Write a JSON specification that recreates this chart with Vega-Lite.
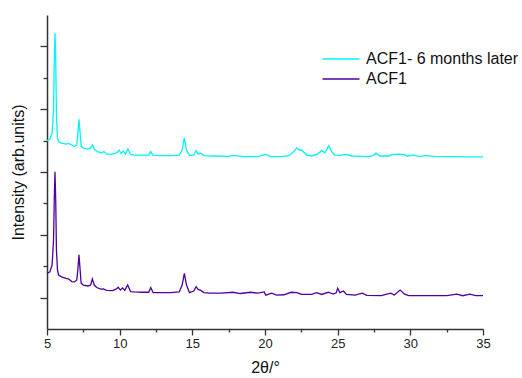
{
  "$schema": "https://vega.github.io/schema/vega-lite/v6.json",
  "autosize": "none",
  "padding": {"left": 47, "top": 15, "right": 39, "bottom": 49},
  "width": 436,
  "height": 314,
  "background": "white",
  "config": {
    "view": {"stroke": null},
    "font": "Liberation Sans",
    "axis": {"grid": false, "domainColor": "#333", "tickColor": "#333", "domainWidth": 1.5, "tickWidth": 1.3, "labelColor": "#222", "titleColor": "#111", "titleFontWeight": "normal"}
  },
  "datasets": {
    "xrd": [
      {"t":5.0,"i":5.99,"s":"ACF1- 6 months later"},{"t":5.2,"i":6.05,"s":"ACF1- 6 months later"},{"t":5.35,"i":6.24,"s":"ACF1- 6 months later"},{"t":5.45,"i":6.97,"s":"ACF1- 6 months later"},{"t":5.5,"i":8.57,"s":"ACF1- 6 months later"},{"t":5.55,"i":9.42,"s":"ACF1- 6 months later"},{"t":5.6,"i":8.57,"s":"ACF1- 6 months later"},{"t":5.65,"i":6.82,"s":"ACF1- 6 months later"},{"t":5.72,"i":6.08,"s":"ACF1- 6 months later"},{"t":5.8,"i":5.96,"s":"ACF1- 6 months later"},{"t":6.0,"i":5.92,"s":"ACF1- 6 months later"},{"t":6.3,"i":5.89,"s":"ACF1- 6 months later"},{"t":6.5,"i":5.91,"s":"ACF1- 6 months later"},{"t":6.7,"i":5.86,"s":"ACF1- 6 months later"},{"t":6.9,"i":5.81,"s":"ACF1- 6 months later"},{"t":7.05,"i":5.86,"s":"ACF1- 6 months later"},{"t":7.13,"i":6.27,"s":"ACF1- 6 months later"},{"t":7.2,"i":6.68,"s":"ACF1- 6 months later"},{"t":7.27,"i":6.27,"s":"ACF1- 6 months later"},{"t":7.35,"i":5.83,"s":"ACF1- 6 months later"},{"t":7.5,"i":5.76,"s":"ACF1- 6 months later"},{"t":7.8,"i":5.73,"s":"ACF1- 6 months later"},{"t":8.0,"i":5.76,"s":"ACF1- 6 months later"},{"t":8.12,"i":5.86,"s":"ACF1- 6 months later"},{"t":8.25,"i":5.73,"s":"ACF1- 6 months later"},{"t":8.5,"i":5.64,"s":"ACF1- 6 months later"},{"t":8.75,"i":5.61,"s":"ACF1- 6 months later"},{"t":8.92,"i":5.65,"s":"ACF1- 6 months later"},{"t":9.1,"i":5.57,"s":"ACF1- 6 months later"},{"t":9.5,"i":5.57,"s":"ACF1- 6 months later"},{"t":9.8,"i":5.61,"s":"ACF1- 6 months later"},{"t":9.96,"i":5.7,"s":"ACF1- 6 months later"},{"t":10.1,"i":5.59,"s":"ACF1- 6 months later"},{"t":10.25,"i":5.67,"s":"ACF1- 6 months later"},{"t":10.4,"i":5.57,"s":"ACF1- 6 months later"},{"t":10.57,"i":5.73,"s":"ACF1- 6 months later"},{"t":10.75,"i":5.56,"s":"ACF1- 6 months later"},{"t":11.0,"i":5.54,"s":"ACF1- 6 months later"},{"t":11.5,"i":5.54,"s":"ACF1- 6 months later"},{"t":12.0,"i":5.54,"s":"ACF1- 6 months later"},{"t":12.14,"i":5.65,"s":"ACF1- 6 months later"},{"t":12.3,"i":5.53,"s":"ACF1- 6 months later"},{"t":12.8,"i":5.52,"s":"ACF1- 6 months later"},{"t":13.5,"i":5.52,"s":"ACF1- 6 months later"},{"t":14.1,"i":5.54,"s":"ACF1- 6 months later"},{"t":14.3,"i":5.7,"s":"ACF1- 6 months later"},{"t":14.45,"i":6.09,"s":"ACF1- 6 months later"},{"t":14.6,"i":5.7,"s":"ACF1- 6 months later"},{"t":14.8,"i":5.53,"s":"ACF1- 6 months later"},{"t":15.1,"i":5.54,"s":"ACF1- 6 months later"},{"t":15.26,"i":5.68,"s":"ACF1- 6 months later"},{"t":15.4,"i":5.57,"s":"ACF1- 6 months later"},{"t":15.58,"i":5.6,"s":"ACF1- 6 months later"},{"t":15.8,"i":5.52,"s":"ACF1- 6 months later"},{"t":16.5,"i":5.51,"s":"ACF1- 6 months later"},{"t":17.5,"i":5.5,"s":"ACF1- 6 months later"},{"t":17.9,"i":5.53,"s":"ACF1- 6 months later"},{"t":18.5,"i":5.49,"s":"ACF1- 6 months later"},{"t":19.0,"i":5.5,"s":"ACF1- 6 months later"},{"t":19.5,"i":5.49,"s":"ACF1- 6 months later"},{"t":20.05,"i":5.56,"s":"ACF1- 6 months later"},{"t":20.4,"i":5.49,"s":"ACF1- 6 months later"},{"t":21.0,"i":5.49,"s":"ACF1- 6 months later"},{"t":21.6,"i":5.51,"s":"ACF1- 6 months later"},{"t":21.9,"i":5.61,"s":"ACF1- 6 months later"},{"t":22.18,"i":5.77,"s":"ACF1- 6 months later"},{"t":22.35,"i":5.7,"s":"ACF1- 6 months later"},{"t":22.52,"i":5.7,"s":"ACF1- 6 months later"},{"t":22.87,"i":5.54,"s":"ACF1- 6 months later"},{"t":23.2,"i":5.51,"s":"ACF1- 6 months later"},{"t":23.6,"i":5.57,"s":"ACF1- 6 months later"},{"t":23.9,"i":5.68,"s":"ACF1- 6 months later"},{"t":24.13,"i":5.61,"s":"ACF1- 6 months later"},{"t":24.38,"i":5.84,"s":"ACF1- 6 months later"},{"t":24.6,"i":5.64,"s":"ACF1- 6 months later"},{"t":24.8,"i":5.54,"s":"ACF1- 6 months later"},{"t":25.2,"i":5.53,"s":"ACF1- 6 months later"},{"t":25.56,"i":5.56,"s":"ACF1- 6 months later"},{"t":26.0,"i":5.51,"s":"ACF1- 6 months later"},{"t":27.0,"i":5.49,"s":"ACF1- 6 months later"},{"t":27.4,"i":5.51,"s":"ACF1- 6 months later"},{"t":27.64,"i":5.6,"s":"ACF1- 6 months later"},{"t":27.9,"i":5.51,"s":"ACF1- 6 months later"},{"t":28.5,"i":5.51,"s":"ACF1- 6 months later"},{"t":28.8,"i":5.56,"s":"ACF1- 6 months later"},{"t":29.2,"i":5.57,"s":"ACF1- 6 months later"},{"t":29.5,"i":5.56,"s":"ACF1- 6 months later"},{"t":29.8,"i":5.51,"s":"ACF1- 6 months later"},{"t":30.2,"i":5.54,"s":"ACF1- 6 months later"},{"t":30.6,"i":5.5,"s":"ACF1- 6 months later"},{"t":31.1,"i":5.52,"s":"ACF1- 6 months later"},{"t":31.6,"i":5.5,"s":"ACF1- 6 months later"},{"t":32.5,"i":5.49,"s":"ACF1- 6 months later"},{"t":33.3,"i":5.49,"s":"ACF1- 6 months later"},{"t":34.0,"i":5.48,"s":"ACF1- 6 months later"},{"t":35.0,"i":5.48,"s":"ACF1- 6 months later"},
      {"t":5.0,"i":1.77,"s":"ACF1"},{"t":5.2,"i":1.82,"s":"ACF1"},{"t":5.35,"i":2.04,"s":"ACF1"},{"t":5.45,"i":2.83,"s":"ACF1"},{"t":5.5,"i":4.11,"s":"ACF1"},{"t":5.55,"i":5.01,"s":"ACF1"},{"t":5.6,"i":4.11,"s":"ACF1"},{"t":5.65,"i":2.52,"s":"ACF1"},{"t":5.72,"i":1.88,"s":"ACF1"},{"t":5.8,"i":1.72,"s":"ACF1"},{"t":6.0,"i":1.66,"s":"ACF1"},{"t":6.3,"i":1.61,"s":"ACF1"},{"t":6.5,"i":1.59,"s":"ACF1"},{"t":6.7,"i":1.51,"s":"ACF1"},{"t":6.9,"i":1.5,"s":"ACF1"},{"t":7.05,"i":1.56,"s":"ACF1"},{"t":7.13,"i":1.94,"s":"ACF1"},{"t":7.2,"i":2.36,"s":"ACF1"},{"t":7.27,"i":1.94,"s":"ACF1"},{"t":7.35,"i":1.46,"s":"ACF1"},{"t":7.5,"i":1.4,"s":"ACF1"},{"t":7.8,"i":1.37,"s":"ACF1"},{"t":8.0,"i":1.4,"s":"ACF1"},{"t":8.12,"i":1.59,"s":"ACF1"},{"t":8.25,"i":1.4,"s":"ACF1"},{"t":8.42,"i":1.32,"s":"ACF1"},{"t":8.7,"i":1.27,"s":"ACF1"},{"t":8.88,"i":1.28,"s":"ACF1"},{"t":9.1,"i":1.23,"s":"ACF1"},{"t":9.5,"i":1.22,"s":"ACF1"},{"t":9.75,"i":1.27,"s":"ACF1"},{"t":9.9,"i":1.33,"s":"ACF1"},{"t":10.05,"i":1.24,"s":"ACF1"},{"t":10.2,"i":1.31,"s":"ACF1"},{"t":10.35,"i":1.23,"s":"ACF1"},{"t":10.55,"i":1.4,"s":"ACF1"},{"t":10.75,"i":1.19,"s":"ACF1"},{"t":11.0,"i":1.18,"s":"ACF1"},{"t":11.5,"i":1.17,"s":"ACF1"},{"t":12.0,"i":1.17,"s":"ACF1"},{"t":12.14,"i":1.32,"s":"ACF1"},{"t":12.3,"i":1.16,"s":"ACF1"},{"t":12.8,"i":1.16,"s":"ACF1"},{"t":13.5,"i":1.16,"s":"ACF1"},{"t":14.1,"i":1.18,"s":"ACF1"},{"t":14.3,"i":1.4,"s":"ACF1"},{"t":14.45,"i":1.77,"s":"ACF1"},{"t":14.6,"i":1.4,"s":"ACF1"},{"t":14.8,"i":1.16,"s":"ACF1"},{"t":15.1,"i":1.21,"s":"ACF1"},{"t":15.26,"i":1.35,"s":"ACF1"},{"t":15.4,"i":1.26,"s":"ACF1"},{"t":15.58,"i":1.23,"s":"ACF1"},{"t":15.8,"i":1.16,"s":"ACF1"},{"t":16.2,"i":1.14,"s":"ACF1"},{"t":17.0,"i":1.14,"s":"ACF1"},{"t":17.8,"i":1.17,"s":"ACF1"},{"t":18.3,"i":1.13,"s":"ACF1"},{"t":19.0,"i":1.17,"s":"ACF1"},{"t":19.5,"i":1.14,"s":"ACF1"},{"t":19.95,"i":1.18,"s":"ACF1"},{"t":20.05,"i":1.08,"s":"ACF1"},{"t":20.46,"i":1.14,"s":"ACF1"},{"t":20.8,"i":1.08,"s":"ACF1"},{"t":21.3,"i":1.09,"s":"ACF1"},{"t":21.8,"i":1.17,"s":"ACF1"},{"t":22.2,"i":1.16,"s":"ACF1"},{"t":22.5,"i":1.1,"s":"ACF1"},{"t":23.2,"i":1.1,"s":"ACF1"},{"t":23.56,"i":1.16,"s":"ACF1"},{"t":23.9,"i":1.1,"s":"ACF1"},{"t":24.35,"i":1.17,"s":"ACF1"},{"t":24.7,"i":1.11,"s":"ACF1"},{"t":24.9,"i":1.15,"s":"ACF1"},{"t":25.0,"i":1.3,"s":"ACF1"},{"t":25.15,"i":1.16,"s":"ACF1"},{"t":25.4,"i":1.21,"s":"ACF1"},{"t":25.6,"i":1.1,"s":"ACF1"},{"t":26.2,"i":1.08,"s":"ACF1"},{"t":26.7,"i":1.14,"s":"ACF1"},{"t":27.0,"i":1.07,"s":"ACF1"},{"t":28.0,"i":1.06,"s":"ACF1"},{"t":28.65,"i":1.14,"s":"ACF1"},{"t":28.9,"i":1.08,"s":"ACF1"},{"t":29.3,"i":1.24,"s":"ACF1"},{"t":29.6,"i":1.11,"s":"ACF1"},{"t":29.9,"i":1.06,"s":"ACF1"},{"t":30.5,"i":1.06,"s":"ACF1"},{"t":31.5,"i":1.06,"s":"ACF1"},{"t":32.5,"i":1.06,"s":"ACF1"},{"t":33.2,"i":1.11,"s":"ACF1"},{"t":33.6,"i":1.06,"s":"ACF1"},{"t":34.1,"i":1.11,"s":"ACF1"},{"t":34.5,"i":1.06,"s":"ACF1"},{"t":35.0,"i":1.06,"s":"ACF1"}
    ]
  },
  "data": {"name": "xrd"},
  "resolve": {"axis": {"x": "independent", "y": "independent"}},
  "layer": [
    {
      "mark": {"type": "line", "strokeWidth": 1.3},
      "encoding": {
        "x": {"field": "t", "type": "quantitative", "scale": {"domain": [5, 35], "nice": false, "zero": false},
          "axis": {"orient": "bottom", "values": [5, 10, 15, 20, 25, 30, 35], "tickSize": 6, "labelFontSize": 13, "labelPadding": 2, "title": "2θ/°", "titleFontSize": 16, "titlePadding": 9, "labelFlush": false}},
        "y": {"field": "i", "type": "quantitative", "scale": {"domain": [0, 10], "nice": false, "zero": false},
          "axis": {"orient": "left", "values": [1, 3, 5, 7, 9], "tickSize": 7, "labels": false, "title": "Intensity (arb.units)", "titleFontSize": 16, "titlePadding": 13}},
        "color": {"field": "s", "type": "nominal",
          "scale": {"domain": ["ACF1- 6 months later", "ACF1"], "range": ["#00F5F5", "#4F00A0"]},
          "legend": {"title": null, "orient": "none", "legendX": 286, "legendY": 36, "padding": 0, "symbolType": "M-3,0H3", "symbolSize": 152, "symbolStrokeWidth": 1.5, "symbolFillColor": "transparent", "labelFontSize": 16, "labelColor": "#111", "labelOffset": 17, "rowPadding": 4, "labelLimit": 300}}
      }
    },
    {
      "mark": {"type": "line", "strokeOpacity": 0},
      "encoding": {
        "x": {"field": "t", "type": "quantitative",
          "axis": {"orient": "bottom", "values": [7.5, 12.5, 17.5, 22.5, 27.5, 32.5], "tickSize": 3, "labels": false, "domain": false, "title": null}},
        "y": {"field": "i", "type": "quantitative",
          "axis": {"orient": "left", "values": [2, 4, 6, 8], "tickSize": 4, "labels": false, "domain": false, "title": null}},
        "detail": {"field": "s", "type": "nominal"}
      }
    }
  ]
}
